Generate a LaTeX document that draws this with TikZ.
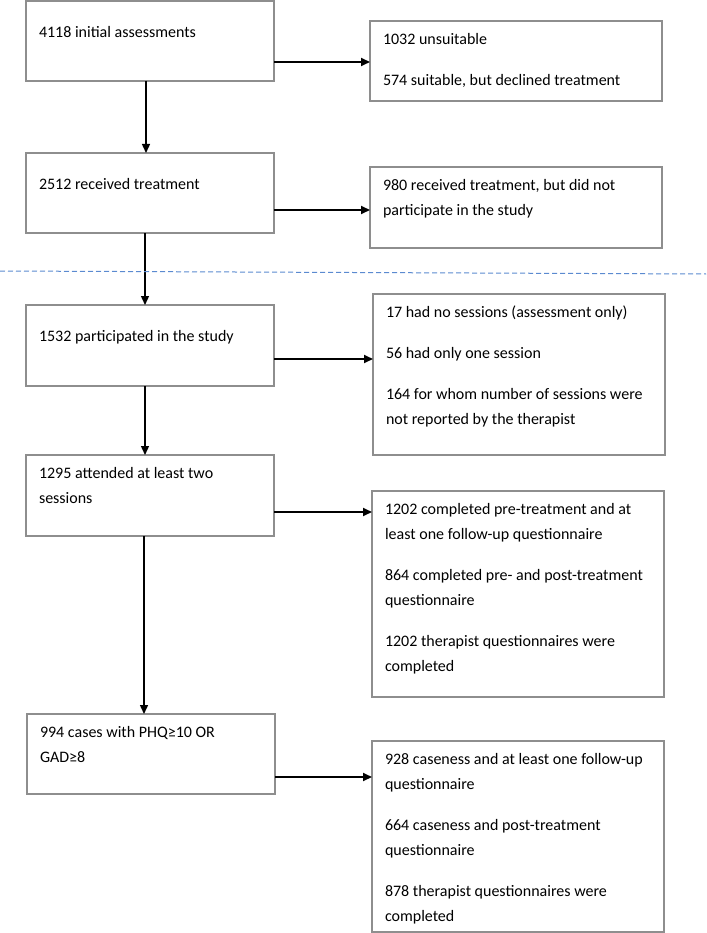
\documentclass[tikz,border=0pt]{standalone}
\usepackage{fontspec}
\setmainfont{Carlito}
\usetikzlibrary{arrows.meta,calc}
\definecolor{boxgray}{HTML}{8E8E8E}
\definecolor{dashblue}{HTML}{5B8AD0}
\begin{document}
\begin{tikzpicture}[x=1pt,y=-1pt,
  box/.style={draw=boxgray,line width=1.3pt,anchor=north west,inner sep=0pt,outer sep=0pt},
  txt/.style={anchor=north west,inner sep=0pt,outer sep=0pt,align=left,text=black,
              font=\fontsize{16}{25.3}\selectfont},
  harr/.style={-{Triangle[length=9pt,width=8pt]},line width=1.8pt,black},
  varr/.style={-{Triangle[length=9pt,width=8pt]},line width=1.4pt,black},
  sep/.style={dashblue,line width=1pt,dash pattern=on 5pt off 3pt}]
\useasboundingbox (0,0) rectangle (706,933);

% left column boxes
\node[box,minimum width=248pt,minimum height=80pt] (L1) at (26,1) {};
\node[box,minimum width=248pt,minimum height=80pt] (L2) at (26,153) {};
\node[box,minimum width=248pt,minimum height=81pt] (L3) at (26,305) {};
\node[box,minimum width=248pt,minimum height=81pt] (L4) at (26,455) {};
\node[box,minimum width=248pt,minimum height=80pt] (L5) at (27,714) {};

% right column boxes
\node[box,minimum width=292pt,minimum height=80pt] (R1) at (370,21) {};
\node[box,minimum width=292pt,minimum height=81pt] (R2) at (370,167) {};
\node[box,minimum width=292pt,minimum height=161pt] (R3) at (373,294) {};
\node[box,minimum width=292pt,minimum height=206pt] (R4) at (372,491) {};
\node[box,minimum width=292pt,minimum height=191pt] (R5) at (372,741) {};

% texts
\node[txt] (L1t) at ($(L1.north west)+(13,18.3)$) {\strut 4118 initial assessments};
\node[txt] (L2t) at ($(L2.north west)+(13,18.3)$) {\strut 2512 received treatment};
\node[txt] (L3t) at ($(L3.north west)+(13,18.3)$) {\strut 1532 participated in the study};
\node[txt] (L4t) at ($(L4.north west)+(13,5.3)$) {\strut 1295 attended at least two\\ sessions};
\node[txt] (L5t) at ($(L5.north west)+(13,5.3)$) {\strut 994 cases with PHQ≥10 OR\\ GAD≥8};

\node[txt] (R1t) at ($(R1.north west)+(13,5.3)$) {\strut 1032 unsuitable\\[15.7pt]
  574 suitable, but declined treatment};
\node[txt] (R2t) at ($(R2.north west)+(13,5.3)$) {\strut 980 received treatment, but did not\\
  participate in the study};
\node[txt] (R3t) at ($(R3.north west)+(13,5.3)$) {\strut 17 had no sessions (assessment only)\\[15.7pt]
  56 had only one session\\[15.7pt]
  164 for whom number of sessions were\\ not reported by the therapist};
\node[txt] (R4t) at ($(R4.north west)+(13,5.3)$) {\strut 1202 completed pre-treatment and at\\
  least one follow-up questionnaire\\[15.7pt]
  864 completed pre- and post-treatment\\ questionnaire\\[15.7pt]
  1202 therapist questionnaires were\\ completed};
\node[txt] (R5t) at ($(R5.north west)+(13,5.3)$) {\strut 928 caseness and at least one follow-up\\
  questionnaire\\[15.7pt]
  664 caseness and post-treatment\\ questionnaire\\[15.7pt]
  878 therapist questionnaires were\\ completed};

% horizontal arrows
\draw[harr] (L1.east |- 0,62)  -- (R1.west |- 0,62);
\draw[harr] (L2.east |- 0,210) -- (R2.west |- 0,210);
\draw[harr] (L3.east |- 0,359) -- (R3.west |- 0,359);
\draw[harr] (L4.east |- 0,512) -- (R4.west |- 0,512);
\draw[harr] (L5.east |- 0,777) -- (R5.west |- 0,777);

% vertical arrows
\draw[varr] (L1.south -| 146,0) -- (L2.north -| 146,0);
\draw[varr] (L2.south -| 145,0) -- (L3.north -| 145,0);
\draw[varr] (L3.south -| 145,0) -- (L4.north -| 145,0);
\draw[varr] (L4.south -| 144,0) -- (L5.north -| 144,0);

% dashed separator
\coordinate (dl) at (0,271);
\coordinate (dr) at (706,274);
\draw[sep] (dl) -- (dr);
\end{tikzpicture}
\end{document}
